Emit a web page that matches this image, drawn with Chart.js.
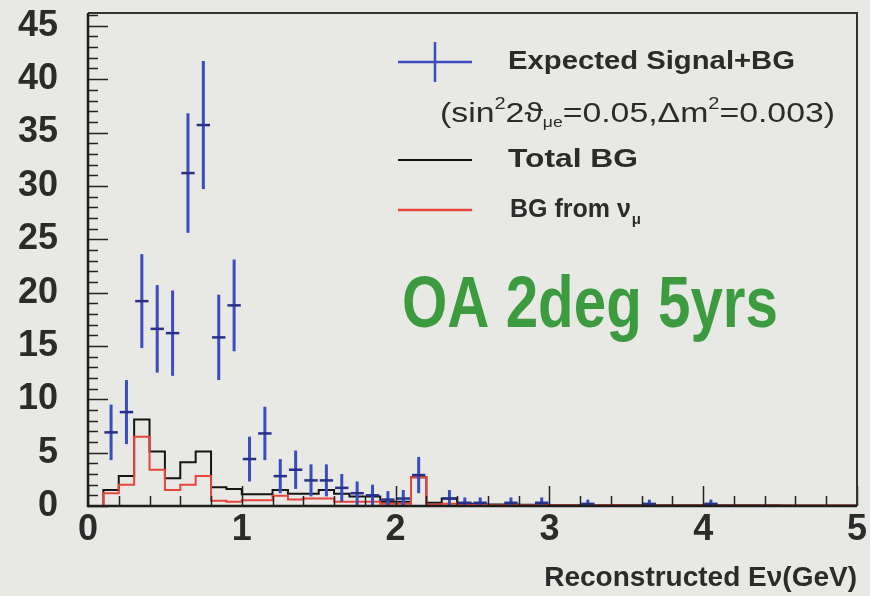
<!DOCTYPE html>
<html><head><meta charset="utf-8">
<script src="https://cdn.jsdelivr.net/npm/chart.js@4"></script>
<style>html,body{margin:0;padding:0;background:#e8e8e4;overflow:hidden}#wrap{width:870px;height:596px;position:relative}</style>
</head><body><div id="wrap"><canvas id="c"></canvas></div>
<script>
// ---- data ----
const binEdges = [0.0,0.1,0.2,0.3,0.4,0.5,0.6,0.7,0.8,0.9,1.0,1.1,1.2,1.3,1.4,1.5,1.6,1.7,1.8,1.9,2.0,2.1,2.2,2.3,2.4,2.5,2.6,2.7,2.8,2.9,3.0,3.1,3.2,3.3,3.4,3.5,3.6,3.7,3.8,3.9,4.0,4.1,4.2,4.3,4.4,4.5,4.6,4.7,4.8,4.9,5.0];
const totalBG = [0,1.5,2.8,8.1,5.1,2.6,4.1,5.1,1.75,1.6,
  1.1,1.1,1.5,1.15,1.15,1.5,1.15,0.9,0.9,0.4,
  0.4,2.7,0.3,0.7,0.2,0.15,0.15,0.15,0.12,0.12,
  0.1,0.1,0.1,0.1,0.1,0.08,0.08,0.08,0.08,0.08,
  0.06,0.06,0.06,0.06,0.06,0.05,0.05,0.05,0.05,0.05];
const numuBG = [0,1.2,2.0,6.5,3.4,1.5,2.0,2.8,0.5,0.4,
  0.55,0.55,0.95,0.6,0.7,0.7,0.4,0.4,0.4,0.2,
  0.2,2.7,0.15,0.2,0.1,0.1,0.08,0.08,0.08,0.08,
  0.06,0.06,0.06,0.06,0.06,0.05,0.05,0.05,0.05,0.05,
  0.05,0.05,0.05,0.05,0.05,0.05,0.05,0.05,0.05,0.05];
const sigCenters = [0.15,0.25,0.35,0.45,0.55,0.65,0.75,0.85,0.95,1.05,1.15,1.25,1.35,1.45,1.55,1.65,1.75,1.85,1.95,2.05,2.15,2.35,2.45,2.55,2.75,2.95,3.25,3.65,4.05];
const sigValues  = [6.9,8.8,19.2,16.6,16.2,31.2,35.7,15.8,18.8,4.4,6.8,2.8,3.4,2.4,2.4,1.7,1.2,1.0,0.6,0.7,2.9,0.7,0.3,0.3,0.3,0.3,0.2,0.2,0.2];
const sigErrors  = [2.6,3.0,4.4,4.1,4.0,5.6,6.0,4.0,4.3,2.1,2.5,1.6,1.8,1.5,1.5,1.3,1.1,1.0,0.8,0.8,1.7,0.8,0.5,0.5,0.5,0.5,0.4,0.4,0.4];
const xTickLabels = ['0','1','2','3','4','5'];
const yTickLabels = ['0','5','10','15','20','25','30','35','40','45'];
const legendLabels = ['Expected Signal+BG','Total BG','BG from \u03bd'];

// ---- helpers ----
function histPoints(vals){
  const pts = vals.map((v,i)=>({x:binEdges[i],y:v}));
  pts.push({x:binEdges[binEdges.length-1], y:vals[vals.length-1]});
  return pts;
}
const INK = '#2b2b2b';
const BLUE = '#3b4cc0';
const RED = '#e8453a';
const FONT = '"Liberation Sans", Arial, sans-serif';

const ticksPlugin = {
  id:'roottick',
  afterDatasetsDraw(chart){
    const {ctx, scales:{x,y}} = chart;
    ctx.save();
    const half = 0.05;
    for(let i=0;i<sigCenters.length;i++){
      const px = x.getPixelForValue(sigCenters[i]);
      const py = y.getPixelForValue(sigValues[i]);
      const pt = y.getPixelForValue(sigValues[i]+sigErrors[i]);
      const pb = y.getPixelForValue(Math.max(0,sigValues[i]-sigErrors[i]));
      ctx.strokeStyle = BLUE; ctx.lineWidth = 3;
      ctx.beginPath(); ctx.moveTo(px,pt); ctx.lineTo(px,pb); ctx.stroke();
      ctx.strokeStyle = '#27308a'; ctx.lineWidth = 2.5;
      ctx.beginPath();
      ctx.moveTo(x.getPixelForValue(sigCenters[i]-half)+1,py);
      ctx.lineTo(x.getPixelForValue(sigCenters[i]+half)-1,py); ctx.stroke();
    }
    ctx.restore();
  },
  afterDraw(chart){
    const {ctx, chartArea:a, scales:{x,y}} = chart;
    ctx.save();
    ctx.strokeStyle = '#222';
    ctx.lineWidth = 1.5;
    for(let v=0; v<=46; v++){
      const py = Math.round(y.getPixelForValue(v))+0.5;
      const len = (v%5===0)?20:10;
      ctx.beginPath(); ctx.moveTo(a.left,py); ctx.lineTo(a.left+len,py); ctx.stroke();
    }
    for(let k=0;k<=25;k++){
      const v = k*0.2;
      const px = Math.round(x.getPixelForValue(v))+0.5;
      const len = (k%5===0)?20:10;
      ctx.beginPath(); ctx.moveTo(px,a.bottom); ctx.lineTo(px,a.bottom-len); ctx.stroke();
    }
    ctx.strokeStyle='#333'; ctx.lineWidth=2;
    ctx.beginPath(); ctx.moveTo(a.left,a.top); ctx.lineTo(a.right,a.top); ctx.lineTo(a.right,a.bottom); ctx.stroke();
    ctx.strokeStyle='#1e1e1e'; ctx.lineWidth=2.5;
    ctx.beginPath(); ctx.moveTo(a.left,a.top); ctx.lineTo(a.left,a.bottom); ctx.lineTo(a.right,a.bottom); ctx.stroke();

    // legend
    const ds = chart.data.datasets;
    ctx.lineCap='butt';
    ctx.strokeStyle=BLUE; ctx.lineWidth=2.5;
    ctx.beginPath(); ctx.moveTo(398,62); ctx.lineTo(472,62); ctx.moveTo(435,42); ctx.lineTo(435,82); ctx.stroke();
    ctx.strokeStyle='#111'; ctx.lineWidth=2;
    ctx.beginPath(); ctx.moveTo(398,160); ctx.lineTo(472,160); ctx.stroke();
    ctx.strokeStyle=RED; ctx.lineWidth=2.5;
    ctx.beginPath(); ctx.moveTo(398,210); ctx.lineTo(472,210); ctx.stroke();

    ctx.fillStyle=INK; ctx.textBaseline='middle'; ctx.textAlign='left';
    function fitText(t, x0, y0, font, w){
      ctx.font = font;
      const m = ctx.measureText(t).width;
      ctx.save(); ctx.translate(x0,y0); ctx.scale(w/m,1); ctx.fillText(t,0,0); ctx.restore();
    }
    fitText(ds[0].label, 508, 62, 'bold 26px '+FONT, 287);
    fitText(ds[1].label, 508, 160, 'bold 26px '+FONT, 130);
    ctx.font='bold 25px '+FONT;
    ctx.fillText(ds[2].label,510,210);
    const wnu = ctx.measureText(ds[2].label).width;
    ctx.font='bold 15px '+FONT;
    ctx.fillText('\u03bc', 510+wnu+1, 220);

    const parts = [
      ['(sin',0,27],['2',-10,16],['2\u03d1',0,27],['\u03bce',8,14],['=0.05,\u0394m',0,27],['2',-10,16],['=0.003)',0,27]
    ];
    let tw=0;
    parts.forEach(p=>{ctx.font=p[2]+'px '+FONT; tw+=ctx.measureText(p[0]).width;});
    const sc = 395/tw;
    ctx.save(); ctx.translate(440,115); ctx.scale(sc,1);
    let cx=0;
    parts.forEach(p=>{ctx.font=p[2]+'px '+FONT; ctx.fillText(p[0],cx,p[1]); cx+=ctx.measureText(p[0]).width;});
    ctx.restore();

    ctx.fillStyle='#3d9b3f'; ctx.textBaseline='alphabetic';
    fitText('OA 2deg 5yrs', 402, 327, 'bold 72px '+FONT, 376);
    ctx.restore();
  }
};

new Chart(document.getElementById('c'), {
  type:'line',
  data:{datasets:[
    {label:legendLabels[0], type:'scatter', data:sigCenters.map((c,i)=>({x:c,y:sigValues[i]})), pointRadius:0, showLine:false, borderColor:BLUE, order:0},
    {label:legendLabels[1], data:histPoints(totalBG), stepped:'before', borderColor:'#151515', borderWidth:2, pointRadius:0, fill:false, order:2},
    {label:legendLabels[2], data:histPoints(numuBG), stepped:'before', borderColor:RED, borderWidth:2, pointRadius:0, fill:false, order:1}
  ]},
  plugins:[ticksPlugin],
  options:{
    responsive:true, maintainAspectRatio:false, animation:false,
    layout:{padding:{top:13,right:13,left:0,bottom:0}},
    plugins:{legend:{display:false}, tooltip:{enabled:false}},
    scales:{
      x:{type:'linear', min:0, max:5, grid:{display:false, drawTicks:false}, border:{display:false},
        afterFit(s){s.height=90; s.paddingLeft=0; s.paddingRight=0;},
        ticks:{stepSize:1, padding:2, color:INK, maxRotation:0, font:{family:FONT, size:36, weight:'bold'},
          callback:(v)=>{const i=xTickLabels.indexOf(String(v));return i>=0?xTickLabels[i]:'';}},
        title:{display:true, text:'Reconstructed E\u03bd(GeV)', align:'end', color:INK, padding:{top:0,bottom:1},
          font:{family:FONT, size:28, weight:'bold'}}},
      y:{min:0, max:46.2, grid:{display:false, drawTicks:false}, border:{display:false},
        afterFit(s){s.width=88; s.paddingTop=0; s.paddingBottom=0;},
        ticks:{stepSize:5, includeBounds:false, padding:30, color:INK, font:{family:FONT, size:36, weight:'bold'},
          callback:(v)=>{const i=yTickLabels.indexOf(String(v));return i>=0?yTickLabels[i]:'';}}}
    }
  }
});
</script></body></html>
